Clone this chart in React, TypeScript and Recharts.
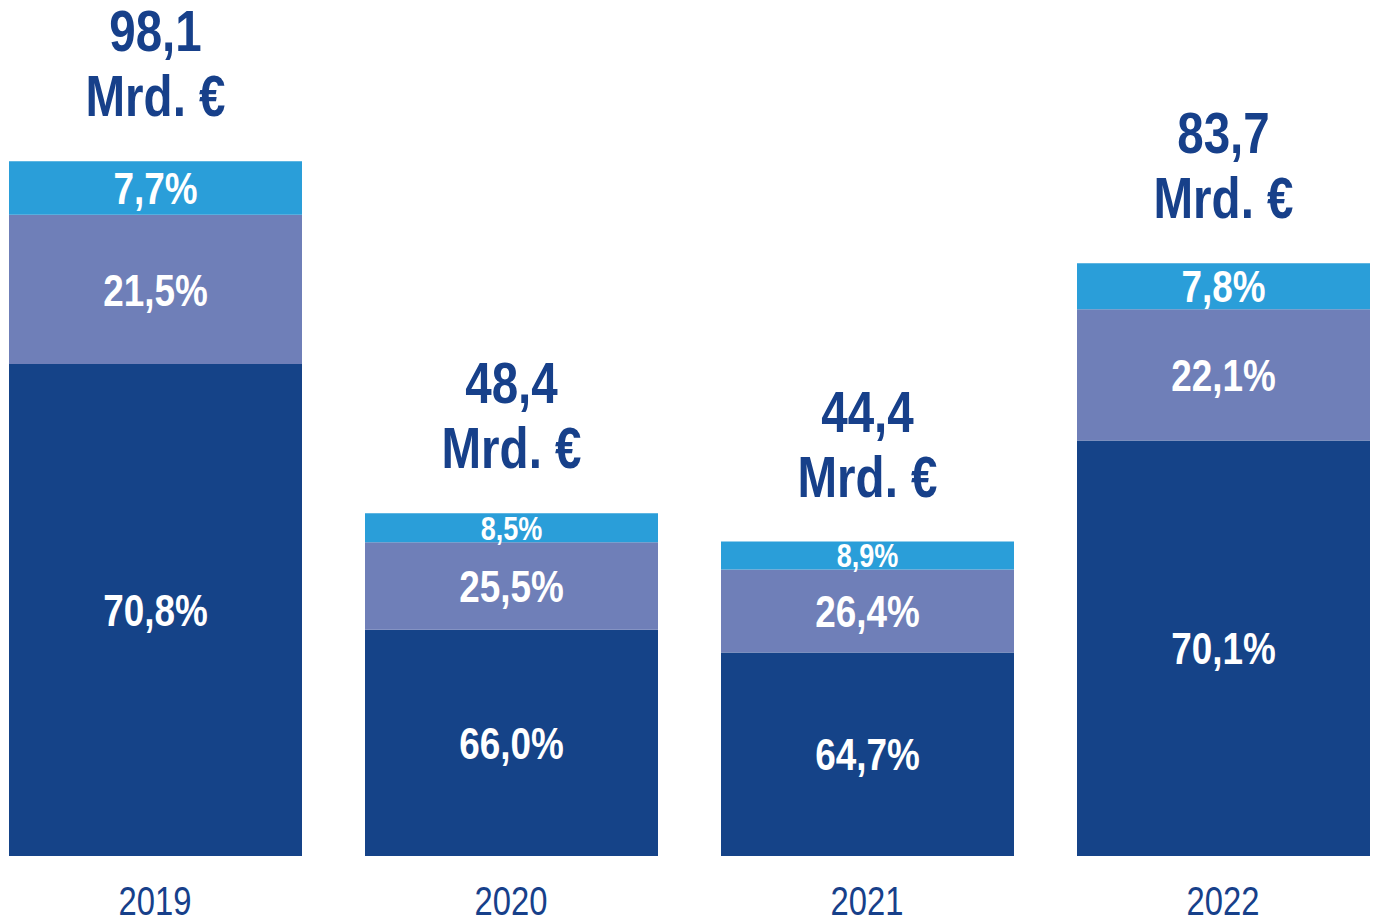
import { BarChart, Bar, XAxis, YAxis, LabelList } from "recharts";

const years = ["2019", "2020", "2021", "2022"];
const totals = [98.1, 48.4, 44.4, 83.7];
const shareDark = [70.8, 66.0, 64.7, 70.1];
const shareMid = [21.5, 25.5, 26.4, 22.1];
const shareLight = [7.7, 8.5, 8.9, 7.8];

const DARK = "#154388";
const MID = "#6f7fb8";
const LIGHT = "#2a9ed9";
const TEXT = "#17408a";
const FONT = '"Liberation Sans", Arial, sans-serif';
// no condensed font available, so squeeze horizontally
const SQUEEZE = 0.82;

const data = years.map((year, i) => ({
  year,
  total: totals[i],
  dark: (totals[i] * shareDark[i]) / 100,
  mid: (totals[i] * shareMid[i]) / 100,
  light: (totals[i] * shareLight[i]) / 100,
  darkPct: shareDark[i],
  midPct: shareMid[i],
  lightPct: shareLight[i],
}));

const fmt = (v: number) => v.toFixed(1).replace(".", ",");

function Narrow({ x, y, children, ...rest }: any) {
  return (
    <text transform={`translate(${x},${y}) scale(${SQUEEZE},1)`} x={0} y={0} textAnchor="middle" {...rest}>
      {children}
    </text>
  );
}

function PctLabel(props: any) {
  const { x, y, width, height, value } = props;
  const size = height < 40 ? 33 : 45;
  return (
    <Narrow
      x={x + width / 2}
      y={y + height / 2}
      dy="0.36em"
      fill="#fff"
      fontFamily={FONT}
      fontWeight="bold"
      fontSize={size}
    >
      {fmt(value)}%
    </Narrow>
  );
}

function TotalLabel(props: any) {
  const { x, y, width, value } = props;
  const cx = x + width / 2;
  return (
    <g fill={TEXT} fontFamily={FONT} fontWeight="bold" fontSize={58}>
      <Narrow x={cx} y={y - 110}>{fmt(value)}</Narrow>
      <Narrow x={cx} y={y - 45}>Mrd. €</Narrow>
    </g>
  );
}

function YearTick(props: any) {
  const { x, y, payload } = props;
  return (
    <Narrow x={x} y={y + 59} fill={TEXT} fontFamily={FONT} fontSize={40}>
      {payload.value}
    </Narrow>
  );
}

export default function App() {
  return (
    <div
      style={{
        position: "absolute",
        left: 0,
        top: 0,
        width: 1373,
        height: 923,
        overflow: "hidden",
        background: "#fff",
      }}
    >
      <div style={{ position: "absolute", left: -23, top: 0 }}>
        <BarChart width={1424} height={923} data={data} margin={{ top: 6, right: 0, bottom: 0, left: 0 }}>
          <XAxis
            dataKey="year"
            height={67}
            axisLine={false}
            tickLine={false}
            tickSize={0}
            tickMargin={0}
            tick={<YearTick />}
            interval={0}
          />
          <YAxis hide domain={[0, 120]} />
          <Bar dataKey="dark" stackId="a" fill={DARK} barSize={293} isAnimationActive={false}>
            <LabelList dataKey="darkPct" content={<PctLabel />} />
          </Bar>
          <Bar dataKey="mid" stackId="a" fill={MID} barSize={293} isAnimationActive={false}>
            <LabelList dataKey="midPct" content={<PctLabel />} />
          </Bar>
          <Bar dataKey="light" stackId="a" fill={LIGHT} barSize={293} isAnimationActive={false}>
            <LabelList dataKey="lightPct" content={<PctLabel />} />
            <LabelList dataKey="total" content={<TotalLabel />} />
          </Bar>
        </BarChart>
      </div>
    </div>
  );
}
